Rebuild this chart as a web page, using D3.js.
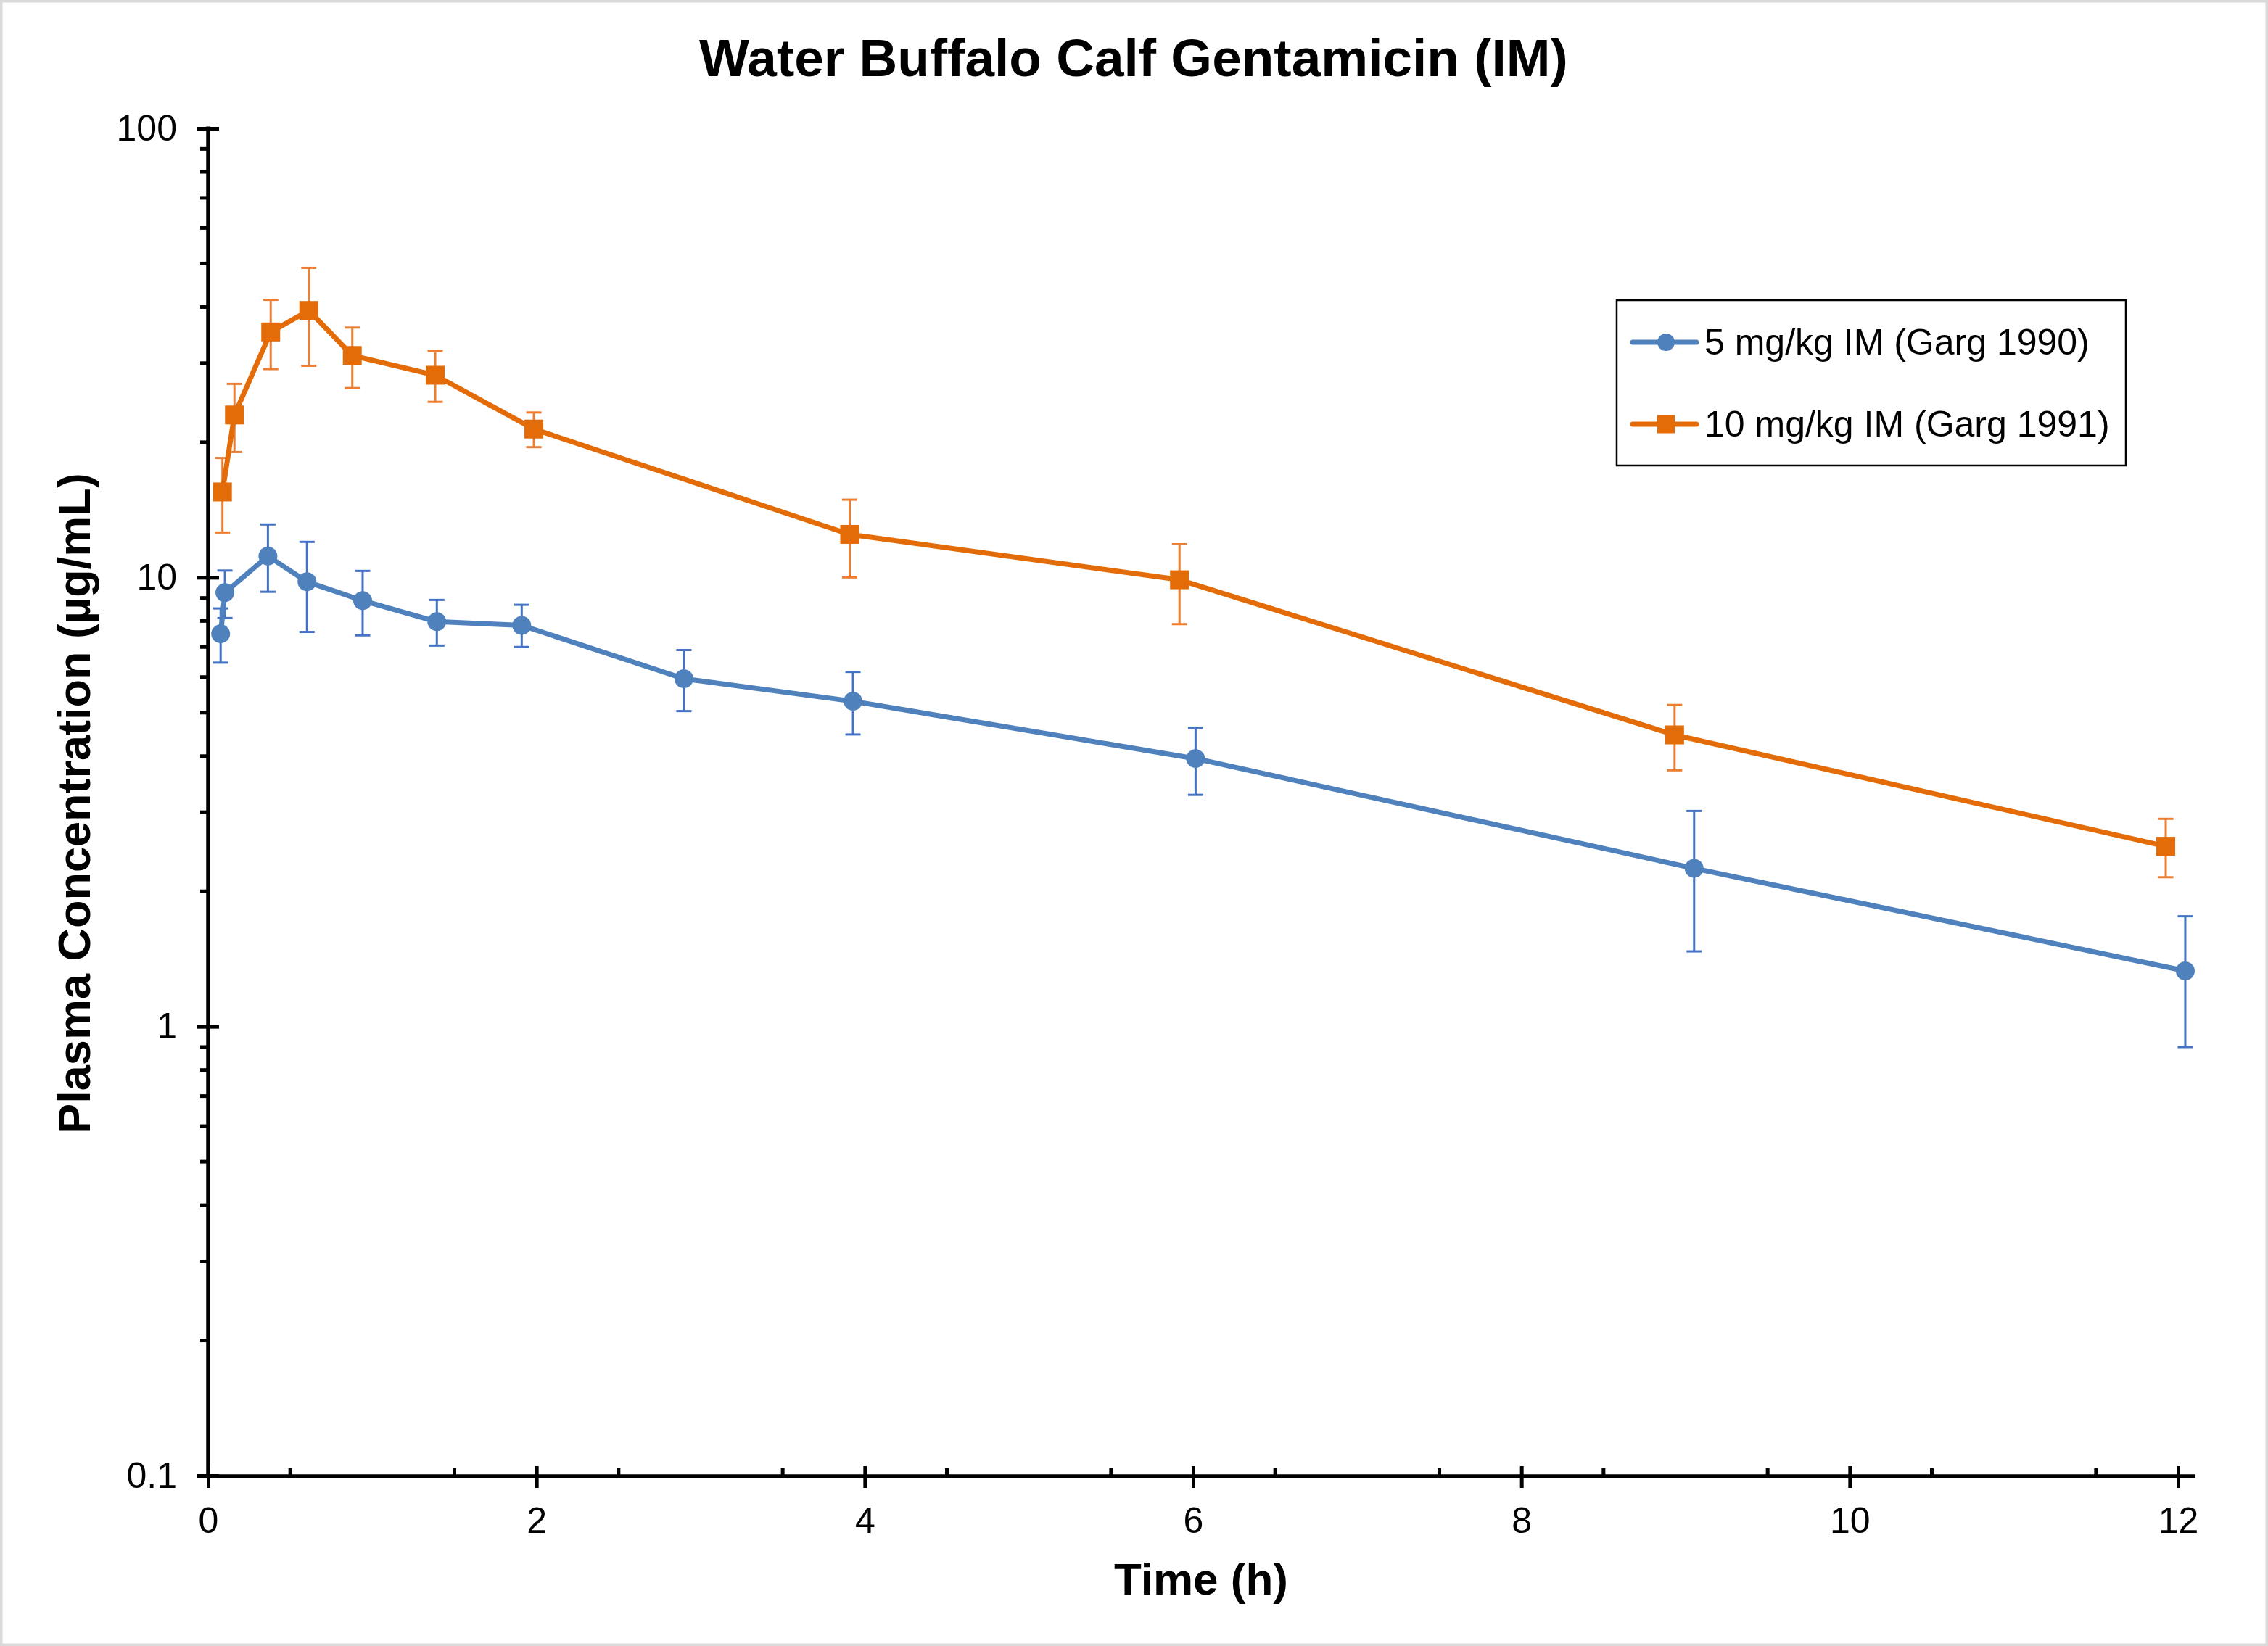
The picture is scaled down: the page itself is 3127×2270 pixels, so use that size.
<!DOCTYPE html>
<html>
<head>
<meta charset="utf-8">
<script src="https://cdn.jsdelivr.net/npm/d3@7"></script>
<style>
  html, body { margin: 0; padding: 0; background: #ffffff; }
  svg { display: block; }
  text { font-family: "Liberation Sans", Arial, Helvetica, sans-serif; fill: #000; }
</style>
</head>
<body>
<script>
// ---- Data ----
const chartTitle = "Water Buffalo Calf Gentamicin (IM)";
const xTitle = "Time (h)";
const yTitle = "Plasma Concentration (µg/mL)";
const seriesNames = ["5 mg/kg IM (Garg 1990)", "10 mg/kg IM (Garg 1991)"];

// 5 mg/kg IM (Garg 1990)
const timeLow  = [0.076, 0.102, 0.364, 0.602, 0.941, 1.393, 1.910, 2.898, 3.928, 6.015, 9.052, 12.044];
const concLow  = [7.49, 9.25, 11.16, 9.78, 8.88, 7.97, 7.82, 5.95, 5.30, 3.95, 2.25, 1.33];
const upperLow = [8.53, 10.36, 13.12, 12.0, 10.34, 8.91, 8.69, 6.89, 6.16, 4.63, 3.02, 1.76];
const lowerLow = [6.46, 8.12, 9.29, 7.56, 7.43, 7.05, 7.00, 5.04, 4.47, 3.28, 1.47, 0.90];

// 10 mg/kg IM (Garg 1991)
const timeHigh  = [0.087, 0.160, 0.381, 0.613, 0.878, 1.383, 1.984, 3.908, 5.917, 8.933, 11.925];
const concHigh  = [15.50, 23.0, 35.2, 39.3, 31.2, 28.2, 21.4, 12.47, 9.88, 4.46, 2.52];
const upperHigh = [18.45, 26.98, 41.5, 48.9, 36.0, 31.9, 23.3, 14.9, 11.86, 5.20, 2.90];
const lowerHigh = [12.59, 19.02, 29.1, 29.6, 26.4, 24.6, 19.5, 10.0, 7.87, 3.72, 2.15];

const xTickValues = [0, 2, 4, 6, 8, 10, 12];
const yTickValues = [0.1, 1, 10, 100];
const yTickLabels = ["0.1", "1", "10", "100"];

// ---- Layout ----
const W = 3127, H = 2270;
const plotLeft = 287, plotRight = 3003, plotTop = 177, plotBottom = 2035;
const axisY = 2036;

const svg = d3.select("body").append("svg").attr("width", W).attr("height", H);
svg.append("rect").attr("x", 0).attr("y", 0).attr("width", W).attr("height", H).attr("fill", "#fff");
svg.append("rect").attr("x", 1.75).attr("y", 1.75).attr("width", W - 3.5).attr("height", H - 3.5)
  .attr("fill", "none").attr("stroke", "#d9d9d9").attr("stroke-width", 3.5);

const x = d3.scaleLinear().domain([0, 12]).range([plotLeft, plotRight]);
const y = d3.scaleLog().domain([0.1, 100]).range([plotBottom, plotTop]);

// Title
svg.append("text").attr("x", 1563).attr("y", 105).attr("text-anchor", "middle")
  .attr("font-size", 73).attr("font-weight", "bold").text(chartTitle);

// Axis titles
svg.append("text").attr("x", 1656).attr("y", 2199).attr("text-anchor", "middle")
  .attr("font-size", 62).attr("font-weight", "bold").text(xTitle);
svg.append("text").attr("transform", "translate(124,1108) rotate(-90)").attr("text-anchor", "middle")
  .attr("font-size", 63).attr("font-weight", "bold").text(yTitle);

// Minor ticks (y, outside)
const yMinor = [];
[0.1, 1, 10].forEach(d => { for (let k = 2; k <= 9; k++) yMinor.push(d * k); });
svg.append("g").selectAll("line").data(yMinor).join("line")
  .attr("x1", plotLeft - 11).attr("x2", plotLeft).attr("y1", d => y(d)).attr("y2", d => y(d))
  .attr("stroke", "#000").attr("stroke-width", 5);

// Minor ticks (x, inside)
const xMinor = d3.range(1, 24, 2).map(i => i * 0.5);
svg.append("g").selectAll("line").data(xMinor).join("line")
  .attr("x1", d => x(d)).attr("x2", d => x(d)).attr("y1", axisY - 11).attr("y2", axisY)
  .attr("stroke", "#000").attr("stroke-width", 5);

// Y axis
const yAxis = d3.axisLeft(y).tickValues(yTickValues)
  .tickFormat((d, i) => yTickLabels[i]).tickSize(15).tickPadding(28);
const gy = svg.append("g").attr("transform", `translate(${plotLeft},0)`).call(yAxis);
gy.select(".domain").remove();
gy.selectAll(".tick line").attr("x1", -15).attr("x2", 15).attr("stroke", "#000").attr("stroke-width", 5);
gy.selectAll(".tick text").attr("font-size", 50).attr("font-family", "Liberation Sans, Arial, sans-serif").attr("fill", "#000");
svg.append("line").attr("x1", plotLeft).attr("x2", plotLeft).attr("y1", plotTop - 2.5).attr("y2", axisY + 3)
  .attr("stroke", "#000").attr("stroke-width", 5.5);

// X axis
const xAxis = d3.axisBottom(x).tickValues(xTickValues).tickFormat(d3.format("d")).tickSize(15).tickPadding(27);
const gx = svg.append("g").attr("transform", `translate(0,${axisY})`).call(xAxis);
gx.select(".domain").remove();
gx.selectAll(".tick line").attr("y1", -14).attr("y2", 16).attr("stroke", "#000").attr("stroke-width", 5);
gx.selectAll(".tick text").attr("font-size", 50).attr("font-family", "Liberation Sans, Arial, sans-serif").attr("fill", "#000");
svg.append("line").attr("x1", plotLeft - 15).attr("x2", 3026).attr("y1", axisY).attr("y2", axisY)
  .attr("stroke", "#000").attr("stroke-width", 5.5);

// Series
const series = [
  { name: seriesNames[0], t: timeLow, v: concLow, up: upperLow, lo: lowerLow,
    line: "#4F81BD", err: "#4472C4", shape: "circle" },
  { name: seriesNames[1], t: timeHigh, v: concHigh, up: upperHigh, lo: lowerHigh,
    line: "#E36C09", err: "#ED7D31", shape: "square" }
];

const capW = 21;
series.forEach(s => {
  const pts = s.t.map((t, i) => ({ t, v: s.v[i], up: s.up[i], lo: s.lo[i] }));
  const g = svg.append("g");
  // error bars
  const eb = g.append("g").attr("stroke", s.err).attr("stroke-width", 3);
  eb.selectAll("line.v").data(pts).join("line").attr("class", "v")
    .attr("x1", d => x(d.t)).attr("x2", d => x(d.t)).attr("y1", d => y(d.up)).attr("y2", d => y(d.lo));
  eb.selectAll("line.u").data(pts).join("line").attr("class", "u")
    .attr("x1", d => x(d.t) - capW / 2).attr("x2", d => x(d.t) + capW / 2)
    .attr("y1", d => y(d.up)).attr("y2", d => y(d.up));
  eb.selectAll("line.l").data(pts).join("line").attr("class", "l")
    .attr("x1", d => x(d.t) - capW / 2).attr("x2", d => x(d.t) + capW / 2)
    .attr("y1", d => y(d.lo)).attr("y2", d => y(d.lo));
  // line
  g.append("path").datum(pts)
    .attr("d", d3.line().x(d => x(d.t)).y(d => y(d.v)))
    .attr("fill", "none").attr("stroke", s.line).attr("stroke-width", 7)
    .attr("stroke-linejoin", "round");
  // markers
  if (s.shape === "circle") {
    g.selectAll("circle").data(pts).join("circle")
      .attr("cx", d => x(d.t)).attr("cy", d => y(d.v)).attr("r", 13).attr("fill", s.line);
  } else {
    g.selectAll("rect").data(pts).join("rect")
      .attr("x", d => x(d.t) - 13).attr("y", d => y(d.v) - 13)
      .attr("width", 26).attr("height", 26).attr("fill", s.line);
  }
});

// Legend
const lg = svg.append("g");
lg.append("rect").attr("x", 2229).attr("y", 414).attr("width", 702).attr("height", 228)
  .attr("fill", "#fff").attr("stroke", "#000").attr("stroke-width", 2.5);
const legendRows = [472, 585];
series.forEach((s, i) => {
  const cy = legendRows[i];
  lg.append("line").attr("x1", 2251).attr("x2", 2339).attr("y1", cy).attr("y2", cy)
    .attr("stroke", s.line).attr("stroke-width", 7).attr("stroke-linecap", "round");
  if (s.shape === "circle") {
    lg.append("circle").attr("cx", 2297).attr("cy", cy).attr("r", 12).attr("fill", s.line);
  } else {
    lg.append("rect").attr("x", 2285).attr("y", cy - 12.5).attr("width", 24).attr("height", 25).attr("fill", s.line);
  }
  lg.append("text").attr("x", 2350).attr("y", cy + 17).attr("font-size", 50).text(s.name);
});
</script>
</body>
</html>
